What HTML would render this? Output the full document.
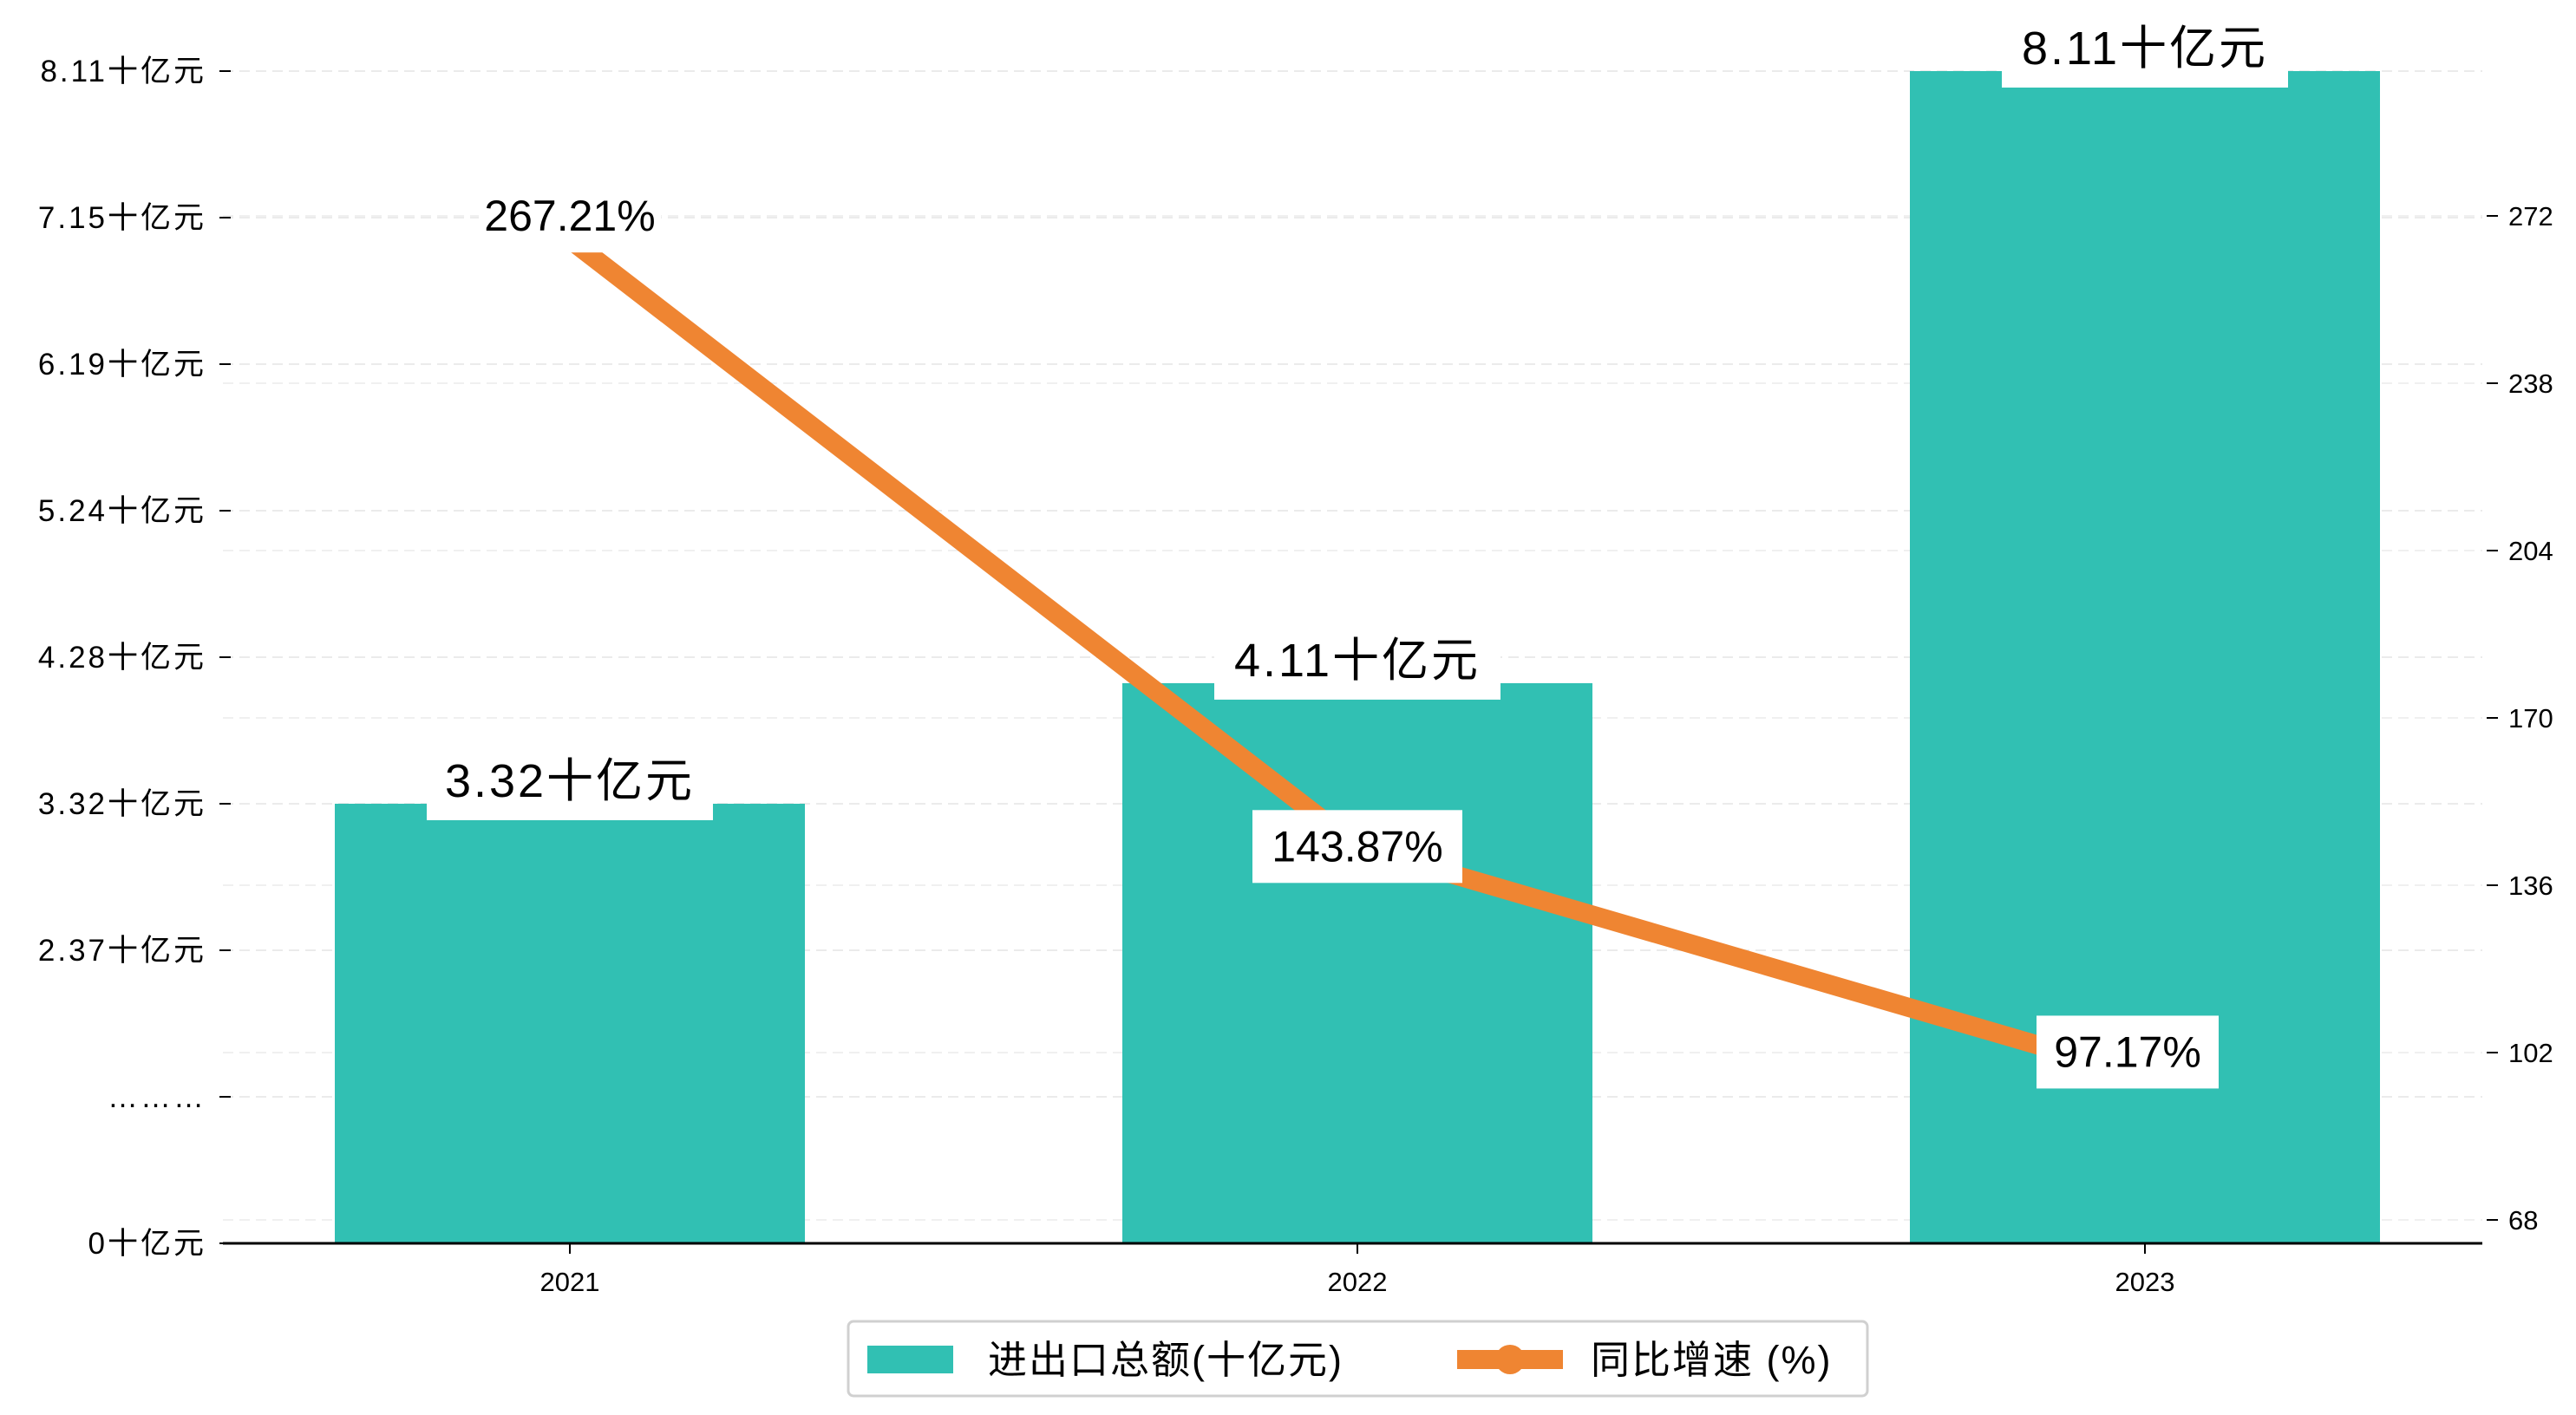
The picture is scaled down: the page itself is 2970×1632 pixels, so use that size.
<!DOCTYPE html>
<html><head><meta charset="utf-8">
<style>
html,body{margin:0;padding:0;background:#fff;}
svg{display:block;font-family:"WenQuanYi Zen Hei","Liberation Sans","Noto Sans CJK SC",sans-serif;}
</style></head>
<body>
<svg id="chart" width="2970" height="1632" viewBox="0 0 2970 1632"></svg>
<script>
const categories = ["2021","2022","2023"];
const barValues = [3.32, 4.11, 8.11];
const barLabels = ["3.32十亿元","4.11十亿元","8.11十亿元"];
const growthValues = [267.21, 143.87, 97.17];
const growthLabels = ["267.21%","143.87%","97.17%"];
const leftTickValues = [0, 1.42, 2.37, 3.32, 4.28, 5.24, 6.19, 7.15, 8.11];
const leftTickLabels = ["0十亿元","………","2.37十亿元","3.32十亿元","4.28十亿元","5.24十亿元","6.19十亿元","7.15十亿元","8.11十亿元"];
const rightTickValues = [68, 102, 136, 170, 204, 238, 272];

const NS = "http://www.w3.org/2000/svg";
const svg = document.getElementById("chart");
function mk(tag, attrs, parent){
  const e = document.createElementNS(NS, tag);
  for (const k in attrs) e.setAttribute(k, attrs[k]);
  (parent || svg).appendChild(e);
  return e;
}
const X0 = 257, X1 = 2862, Y0 = 1434, YTOP = 82;
const tickStep = (Y0 - YTOP) / (leftTickValues.length - 1);
function yLeft(v){
  for (let i = 0; i < leftTickValues.length - 1; i++){
    const a = leftTickValues[i], b = leftTickValues[i+1];
    if (v <= b || i === leftTickValues.length - 2){
      return Y0 - (i + (v - a) / (b - a)) * tickStep;
    }
  }
}
const rMin = 68, rPx = 193 / 34, rY0 = 1407;
function yRight(v){ return rY0 - (v - rMin) * rPx; }
const catStep = 908, cat0 = 657;
function xCat(i){ return cat0 + i * catStep; }
const barW = 542;

leftTickValues.forEach((v, i) => {
  const g = mk("line", {x1: X0, x2: X1, y1: yLeft(v), y2: yLeft(v), stroke: "#ebebeb", "stroke-width": 2, "stroke-dasharray": "12,7"});
  
  
});
rightTickValues.forEach(v => {
  const g = mk("line", {x1: X0, x2: X1, y1: yRight(v), y2: yRight(v), stroke: "#f0f0f0", "stroke-width": 2, "stroke-dasharray": "12,7"});
  
  
});

barValues.forEach((v, i) => {
  const y = yLeft(v);
  const r = mk("rect", {x: xCat(i) - barW/2, y: y, width: barW, height: Y0 - y, fill: "#31c0b3"});
  
  
});

const pts = growthValues.map((v, i) => xCat(i) + "," + yRight(v)).join(" ");
const pl = mk("polyline", {points: pts, fill: "none", stroke: "#ef8532", "stroke-width": 22, "stroke-linejoin": "round"});



barValues.forEach((v, i) => {
  const y = yLeft(v);
  const r = mk("rect", {x: xCat(i) - 165, y: y - 61, width: 330, height: 80, fill: "#fff"});
  
  
  const t = mk("text", {x: xCat(i), y: y - 8, "text-anchor": "middle", "font-size": 54, "letter-spacing": 3, fill: "#000"});
  t.textContent = barLabels[i];
  
  
});

growthValues.forEach((v, i) => {
  const y = yRight(v) - (i === 0 ? 27 : (i === 2 ? 28 : 0));
  const w = i === 1 ? 242 : 210;
  const dx = i === 2 ? -20 : 0;
  const r = mk("rect", {x: xCat(i) - w/2 + dx, y: y - 42, width: w, height: 84, fill: "#fff"});
  
  
  const t = mk("text", {x: xCat(i) + dx, y: y + 17, "text-anchor": "middle", "font-size": 50, fill: "#000"});
  t.textContent = growthLabels[i];
  
  
});

const ax = mk("line", {x1: X0, x2: X1, y1: Y0, y2: Y0, stroke: "#000", "stroke-width": 3});


categories.forEach((c, i) => {
  const tk = mk("line", {x1: xCat(i), x2: xCat(i), y1: Y0, y2: Y0 + 12, stroke: "#000", "stroke-width": 2});
  
  
  const t = mk("text", {x: xCat(i), y: Y0 + 55, "text-anchor": "middle", "font-size": 31, fill: "#000"});
  t.textContent = c;
  
  
});

leftTickValues.forEach((v, i) => {
  const y = yLeft(v);
  const tk = mk("line", {x1: 253, x2: 266, y1: y, y2: y, stroke: "#000", "stroke-width": 2});
  
  
  const t = mk("text", {x: 238, y: y + 12, "text-anchor": "end", "font-size": 35, "letter-spacing": 3, fill: "#000"});
  t.textContent = leftTickLabels[i];
  
  
});

rightTickValues.forEach(v => {
  const y = yRight(v);
  const tk = mk("line", {x1: 2867, x2: 2880, y1: y, y2: y, stroke: "#000", "stroke-width": 2});
  
  
  const t = mk("text", {x: 2892, y: y + 11, "text-anchor": "start", "font-size": 31, fill: "#000"});
  t.textContent = v;
  
  
});

const lg = mk("g", {});


mk("rect", {x: 978, y: 1524, width: 1175, height: 86, rx: 6, fill: "#fff", stroke: "#d0d0d0", "stroke-width": 3}, lg);
const p1 = mk("rect", {x: 1000, y: 1552, width: 99, height: 32, fill: "#31c0b3"}, lg);


const t1 = mk("text", {x: 1139, y: 1584, "font-size": 45, "letter-spacing": 2, fill: "#000"}, lg);
t1.textContent = "进出口总额(十亿元)";


const l2 = mk("line", {x1: 1680, x2: 1802, y1: 1568, y2: 1568, stroke: "#ef8532", "stroke-width": 22}, lg);


mk("circle", {cx: 1741, cy: 1568, r: 17, fill: "#ef8532"}, lg);
const t2 = mk("text", {x: 1834, y: 1584, "font-size": 45, "letter-spacing": 2, fill: "#000"}, lg);
t2.textContent = "同比增速 (%)";


</script>
</body></html>
